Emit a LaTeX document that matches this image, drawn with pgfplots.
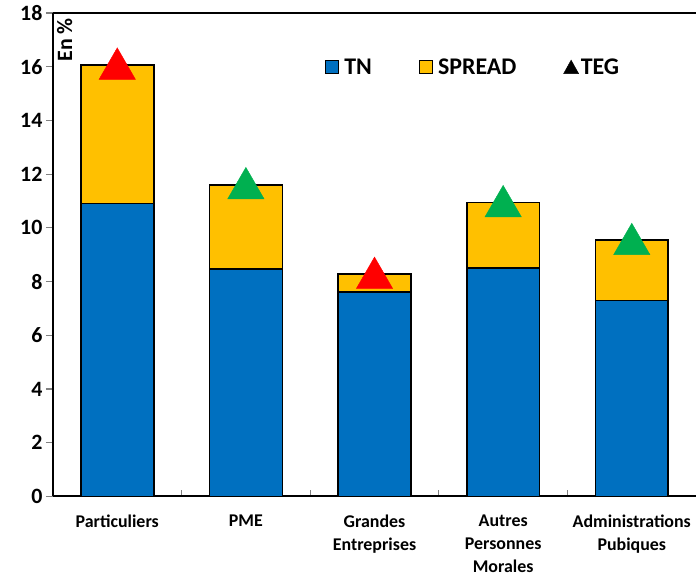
\documentclass[border=0pt]{standalone}
\usepackage{fontspec}
\setmainfont{Carlito}
\usepackage{pgfplots}
\pgfplotsset{compat=1.18}

\definecolor{tnblue}{HTML}{0070C0}
\definecolor{spyellow}{HTML}{FFC000}
\definecolor{tegred}{HTML}{FF0000}
\definecolor{teggreen}{HTML}{00B050}

\pgfplotsset{
  base/.style={
    width=644bp, height=484bp, scale only axis,
    xmin=-0.5, xmax=4.5, ymin=0, ymax=18,
  },
  sqlegend/.style={
    legend image code/.code={\draw[##1, line width=1.2bp] (0bp,-6.5bp) rectangle (13bp,6.5bp);
      \path (16bp,0bp);}
  },
}

\begin{document}
\begin{tikzpicture}
\begin{axis}[
    base,
    ybar stacked,
    bar width=73bp,
    axis lines=left,
    axis line style={line width=1.8bp, -},
    xtick={0,1,2,3,4},
    xticklabels={Particuliers, PME, Grandes\\Entreprises, Autres\\Personnes\\Morales, Administrations\\Pubiques},
    xticklabel style={align=center, font=\fontsize{18}{23}\selectfont\bfseries, yshift=-8bp},
    major x tick style={draw=none},
    minor xtick={0.5,1.5,2.5,3.5},
    minor x tick style={line width=1.2bp, yshift=6bp},
    minor tick length=6bp,
    ytick={0,2,...,18},
    yticklabel={\textbf{\pgfmathprintnumber{\tick}}},
    yticklabel style={font=\fontsize{22}{24}\selectfont\bfseries},
    /pgf/number format/assume math mode=true,
    ytick style={line width=1.2bp},
    major tick length=7bp,
    tick align=outside,
    legend columns=3,
    legend style={at={(0.418,0.888)}, anchor=west, draw=none, fill=none,
      font=\fontsize{24}{26}\selectfont\bfseries,
      /tikz/every even column/.append style={column sep=45bp}},
    legend cell align=left,
]
\addplot[fill=tnblue, draw=black, line width=1.6bp, sqlegend]
  coordinates {(0,10.9) (1,8.46) (2,7.6) (3,8.5) (4,7.3)};
\addplot[fill=spyellow, draw=black, line width=1.6bp, sqlegend]
  coordinates {(0,5.17) (1,3.14) (2,0.68) (3,2.45) (4,2.24)};
\addlegendimage{legend image code/.code={\fill[black] (0bp,-6.5bp) -- (15bp,-6.5bp) -- (7.5bp,7bp) -- cycle;}}
\legend{TN, SPREAD, TEG}
\draw[line width=1.8bp] (rel axis cs:0,1) -- (rel axis cs:1,1);
\node[rotate=90, anchor=north east, inner sep=0pt, font=\fontsize{22}{24}\selectfont\bfseries]
  at ([xshift=4bp, yshift=-5bp]rel axis cs:0,1) {En \%};
\end{axis}
\begin{axis}[base, hide axis, clip=false]
\addplot[only marks, mark=triangle*, mark size=21bp, color=tegred]
  coordinates {(0,15.92) (2,8.13)};
\addplot[only marks, mark=triangle*, mark size=21bp, color=teggreen]
  coordinates {(1,11.47) (3,10.8) (4,9.39)};
\end{axis}
\path (current axis.south west) ++(-53bp,-79bp) rectangle ++(697bp,576bp);
\end{tikzpicture}
\end{document}
